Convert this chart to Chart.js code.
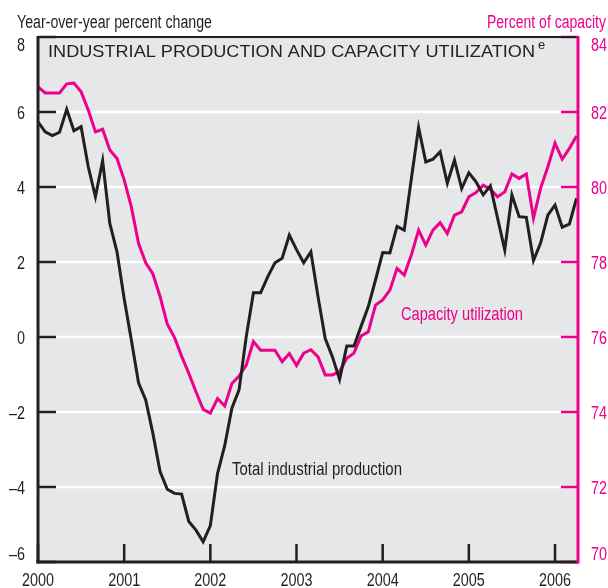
<!DOCTYPE html>
<html>
<head>
<meta charset="utf-8">
<script src="https://cdn.jsdelivr.net/npm/chart.js@4/dist/chart.umd.min.js"></script>
<style>
  html, body { margin: 0; padding: 0; background: #fff; }
  .wrap { width: 608px; height: 588px; position: relative; }
</style>
</head>
<body>
<div class="wrap"><canvas id="chart"></canvas></div>
<script>
// monthly, Jan 2000 .. Apr 2006
const YEARS = ["2000","2001","2002","2003","2004","2005","2006"];
const LEFT_TICKS = [8, 6, 4, 2, 0, -2, -4, -6];
const RIGHT_TICKS = [84, 82, 80, 78, 76, 74, 72, 70];

// Total industrial production, year-over-year percent change
const industrialProduction = [
  5.74, 5.47, 5.37, 5.46, 6.07, 5.50, 5.61, 4.54, 3.74, 4.70, 3.03, 2.27,
  1.02, -0.08, -1.22, -1.68, -2.57, -3.59, -4.06, -4.17, -4.19, -4.92, -5.15, -5.46,
  -5.03, -3.64, -2.90, -1.90, -1.41, 0.01, 1.18, 1.18, 1.61, 1.98, 2.10, 2.72,
  2.33, 1.98, 2.27, 1.07, -0.04, -0.53, -1.13, -0.24, -0.24, 0.29, 0.81, 1.52,
  2.25, 2.24, 2.95, 2.85, 4.23, 5.59, 4.67, 4.74, 4.94, 4.10, 4.72, 3.96,
  4.38, 4.14, 3.79, 4.03, 3.17, 2.32, 3.79, 3.21, 3.19, 2.04, 2.51, 3.25,
  3.52, 2.93, 3.01, 3.70
];

// Capacity utilization, percent of capacity
const capacityUtilization = [
  82.67, 82.51, 82.51, 82.51, 82.75, 82.77, 82.54, 82.05, 81.47, 81.54, 80.99, 80.76,
  80.19, 79.47, 78.50, 77.98, 77.68, 77.08, 76.35, 75.99, 75.49, 75.03, 74.54, 74.07,
  73.97, 74.36, 74.16, 74.76, 74.96, 75.25, 75.88, 75.65, 75.65, 75.65, 75.34, 75.56,
  75.24, 75.57, 75.66, 75.47, 74.99, 74.99, 75.08, 75.43, 75.57, 76.03, 76.14, 76.85,
  76.99, 77.25, 77.83, 77.65, 78.19, 78.85, 78.45, 78.85, 79.05, 78.76, 79.25, 79.34,
  79.74, 79.85, 80.05, 79.94, 79.74, 79.87, 80.35, 80.23, 80.35, 79.17, 79.97, 80.54,
  81.17, 80.74, 81.03, 81.36
];

const PINK = "#ec008c";
const INK = "#231f20";
const FONT = '"Liberation Sans", Arial, sans-serif';

// draw text squeezed horizontally (condensed look); width = target width or null
function condText(ctx, text, x, y, size, width, color, align, squeeze) {
  ctx.save();
  ctx.font = size + "px " + FONT;
  const w = ctx.measureText(text).width;
  const k = width ? width / w : (squeeze || 0.8);
  ctx.fillStyle = color;
  ctx.textAlign = align || "left";
  ctx.textBaseline = "alphabetic";
  ctx.translate(x, y);
  ctx.scale(k, 1);
  ctx.fillText(text, 0, 0);
  ctx.restore();
}

function line(ctx, x1, y1, x2, y2, color, width) {
  ctx.beginPath();
  ctx.strokeStyle = color;
  ctx.lineWidth = width;
  ctx.moveTo(x1, y1);
  ctx.lineTo(x2, y2);
  ctx.stroke();
}

const framePlugin = {
  id: "frame",
  beforeDatasetsDraw(chart) {
    const ctx = chart.ctx;
    const a = chart.chartArea;
    const yL = chart.scales.y;
    ctx.save();
    ctx.fillStyle = "#e6e7e8";
    ctx.fillRect(a.left, a.top, a.right - a.left, a.bottom - a.top);
    LEFT_TICKS.forEach(v => {
      const py = yL.getPixelForValue(v);
      if (py > a.top + 2 && py < a.bottom - 2) line(ctx, a.left, py, a.right, py, "#ffffff", 2.5);
    });
    ctx.restore();
  },
  afterDatasetsDraw(chart) {
    const ctx = chart.ctx;
    const a = chart.chartArea;
    const x = chart.scales.x, yL = chart.scales.y, yR = chart.scales.y2;
    ctx.save();
    ctx.lineCap = "butt";

    // inward ticks
    LEFT_TICKS.forEach(v => {
      const py = yL.getPixelForValue(v);
      line(ctx, a.left, py, a.left + 18, py, INK, 2.5);
    });
    RIGHT_TICKS.forEach(v => {
      const py = yR.getPixelForValue(v);
      line(ctx, a.right - 17, py, a.right, py, PINK, 2.5);
    });
    YEARS.forEach((yr, i) => {
      const px = x.getPixelForValue(i * 12);
      line(ctx, px, a.bottom, px, a.bottom - 18, INK, 2.5);
    });

    // frame
    line(ctx, a.left - 1, a.top, a.right, a.top, INK, 2);
    line(ctx, a.left, a.top - 1, a.left, a.bottom + 1.5, INK, 3);
    line(ctx, a.left - 1.5, a.bottom, a.right, a.bottom, INK, 3);
    line(ctx, a.right, a.top - 1, a.right, a.bottom + 1.5, PINK, 3);

    // tick labels
    LEFT_TICKS.forEach(v => {
      let py = yL.getPixelForValue(v);
      py = Math.min(Math.max(py, a.top + 7.5), a.bottom - 9);
      condText(ctx, v < 0 ? "\u2013" + Math.abs(v) : String(v), 25, py + 6.5, 18, null, INK, "right");
    });
    RIGHT_TICKS.forEach(v => {
      let py = yR.getPixelForValue(v);
      py = Math.min(Math.max(py, a.top + 7.5), a.bottom - 9);
      condText(ctx, String(v), 591, py + 6.5, 18, null, PINK, "left");
    });
    YEARS.forEach((yr, i) => {
      const px = x.getPixelForValue(i * 12);
      condText(ctx, yr, px, 586, 18, null, INK, "center");
    });

    // axis titles
    condText(ctx, "Year-over-year percent change", 17, 28, 18, 195, INK, "left");
    condText(ctx, "Percent of capacity", 606, 28, 18, 119, PINK, "right");

    // chart title
    condText(ctx, "INDUSTRIAL PRODUCTION AND CAPACITY UTILIZATION", 48, 57, 17, 487, INK, "left");
    condText(ctx, "e", 538, 49, 13, null, INK, "left", 1);

    // series labels
    condText(ctx, "Capacity utilization", 401, 320, 19, 122, PINK, "left");
    condText(ctx, "Total industrial production", 232, 475, 19, 170, INK, "left");

    ctx.restore();
  }
};

const ctx = document.getElementById("chart");

const myChart = new Chart(ctx, {
  type: "line",
  data: {
    datasets: [
      {
        label: "Total industrial production",
        data: industrialProduction.map((v, i) => ({ x: i, y: v })),
        yAxisID: "y",
        borderColor: INK,
        borderWidth: 3,
        pointRadius: 0,
        tension: 0,
        fill: false,
      },
      {
        label: "Capacity utilization",
        data: capacityUtilization.map((v, i) => ({ x: i, y: v })),
        yAxisID: "y2",
        borderColor: PINK,
        borderWidth: 3,
        pointRadius: 0,
        tension: 0,
        fill: false,
      },
    ],
  },
  options: {
    responsive: true,
    maintainAspectRatio: false,
    animation: false,
    layout: { padding: { left: 38, top: 37, right: 30, bottom: 26 } },
    plugins: {
      legend: { display: false },
      tooltip: { enabled: false },
    },
    scales: {
      x: { type: "linear", min: 0, max: 75.2, display: false },
      y: { min: -6, max: 8, display: false },
      y2: { min: 70, max: 84, display: false, position: "right" },
    },
  },
  plugins: [framePlugin],
});
</script>
</body>
</html>
